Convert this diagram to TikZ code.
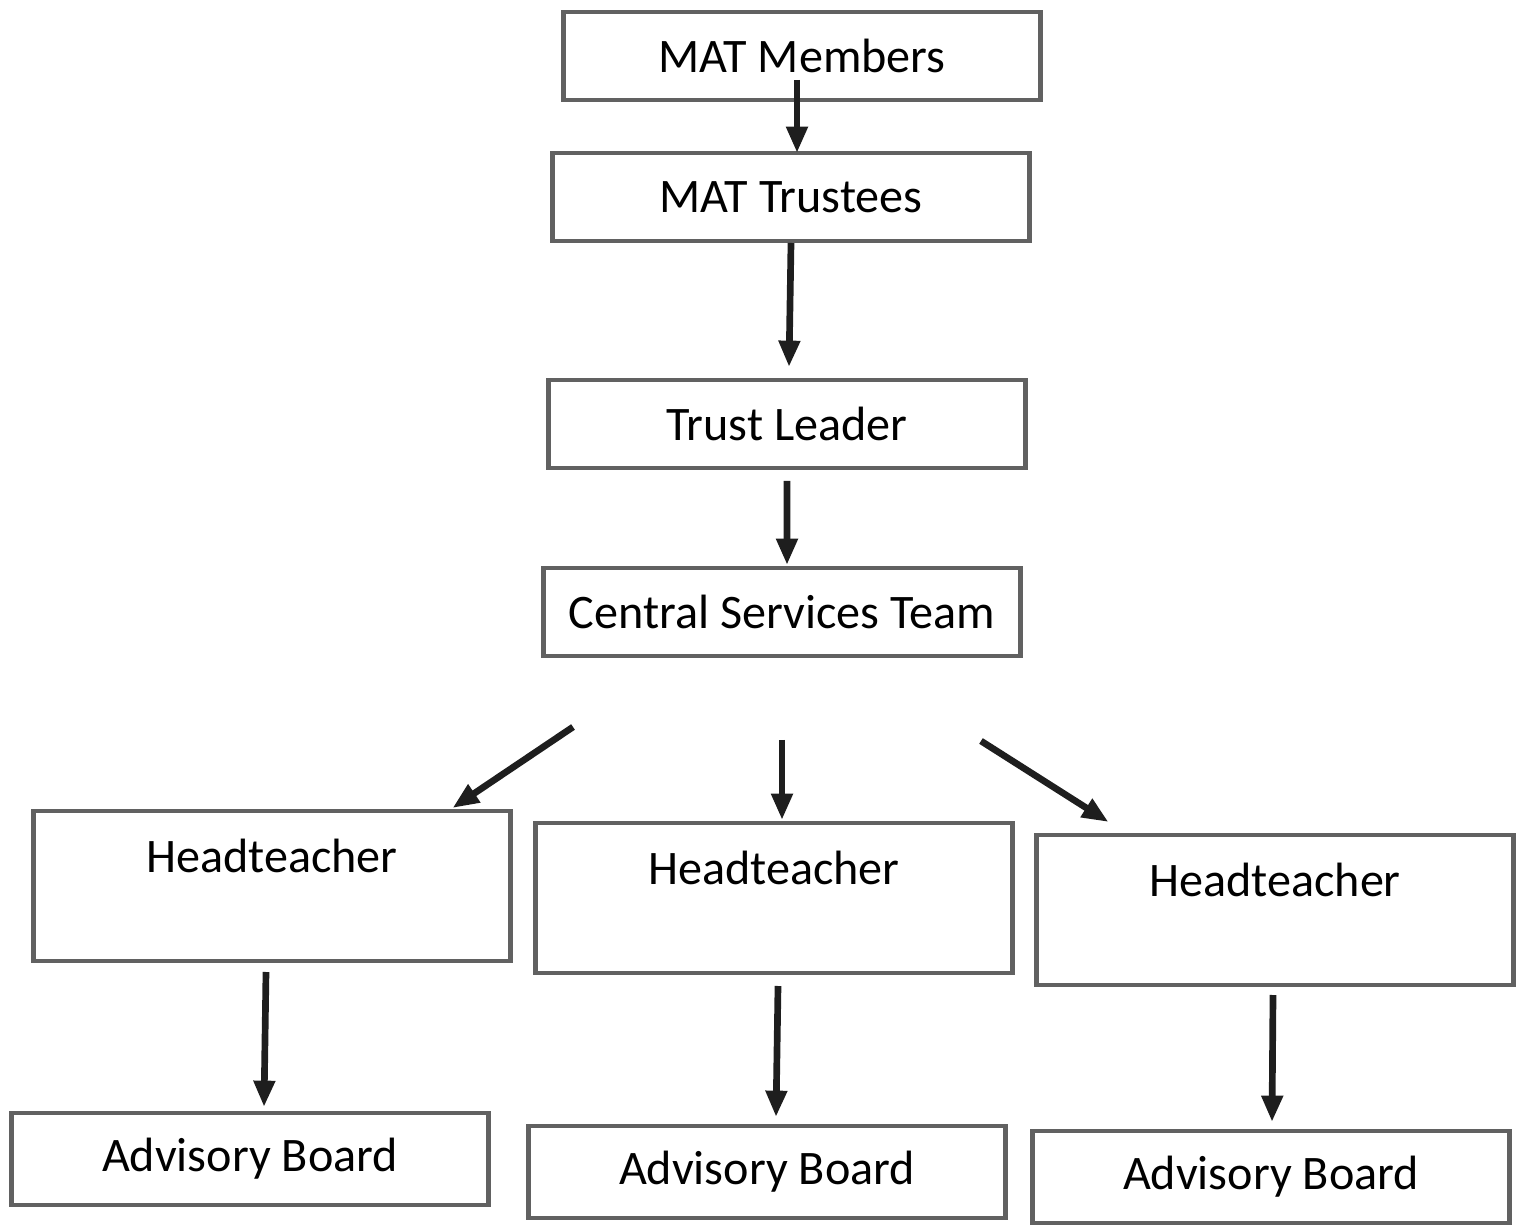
\documentclass[tikz,border=0pt]{standalone}
\usepackage{fontspec}
\setmainfont{Carlito}
\usetikzlibrary{arrows.meta}
\definecolor{boxgrey}{HTML}{616161}
\definecolor{arrowblack}{HTML}{1E1E1E}
\begin{document}
\begin{tikzpicture}
  [box/.style={rectangle,draw=boxgrey,line width=1.3pt,align=center,
               outer sep=0,minimum width=4.77cm,minimum height=0.88cm,
               font=\fontsize{13.7}{16}\selectfont},
   headbox/.style={box,minimum height=1.5cm,text height=0.32cm,text depth=0.6cm},
   advbox/.style={box,minimum height=0.92cm},
   arrow/.style={draw=arrowblack,line width=1.9pt,
                 -{Triangle[length=7.5pt,width=5.8pt]}}]
  \useasboundingbox (0,0) rectangle (15.22,-12.25);
  \node[box] (members) at (8.02,-0.56) {MAT Members};
  \node[box] (trustees) at (7.91,-1.97) {MAT Trustees};
  \node[box] (leader) at (7.87,-4.24) {Trust Leader};
  \node[box] (central) at (7.82,-6.12) {Central Services Team};
  \node[headbox] (head1) at (2.72,-8.86) {Headteacher};
  \node[headbox] (head2) at (7.74,-8.98) {Headteacher};
  \node[headbox] (head3) at (12.75,-9.10) {Headteacher};
  \node[advbox] (adv1) at (2.50,-11.59) {Advisory Board};
  \node[advbox] (adv2) at (7.67,-11.72) {Advisory Board};
  \node[advbox] (adv3) at (12.71,-11.77) {Advisory Board};
  % free ends of the arrows
  \coordinate (memstart) at (7.97,-0.80);
  \coordinate (split1) at (5.73,-7.27);
  \coordinate (split2) at (7.82,-7.40);
  \coordinate (split3) at (9.81,-7.41);
  \draw[arrow] (memstart) -- (memstart |- trustees.north);
  \draw[arrow] ([yshift=-0.02cm]trustees.south) -- ([xshift=0.02cm,yshift=0.13cm]leader.north);
  \draw[arrow] ([yshift=-0.13cm]leader.south) -- ([xshift=0.05cm,yshift=0.03cm]central.north);
  \draw[arrow] (split1) -- ([xshift=-0.58cm,yshift=0.03cm]head1.north east);
  \draw[arrow] (split2) -- ([yshift=0.03cm]split2 |- head2.north);
  \draw[arrow] (split3) -- ([xshift=0.72cm,yshift=0.13cm]head3.north west);
  \draw[arrow] ([xshift=-0.06cm,yshift=-0.11cm]head1.south) -- ([xshift=0.14cm,yshift=0.06cm]adv1.north);
  \draw[arrow] ([xshift=0.04cm,yshift=-0.13cm]head2.south) -- ([xshift=0.09cm,yshift=0.09cm]adv2.north);
  \draw[arrow] ([xshift=-0.02cm,yshift=-0.10cm]head3.south) -- ([xshift=0.01cm,yshift=0.09cm]adv3.north);
\end{tikzpicture}
\end{document}
